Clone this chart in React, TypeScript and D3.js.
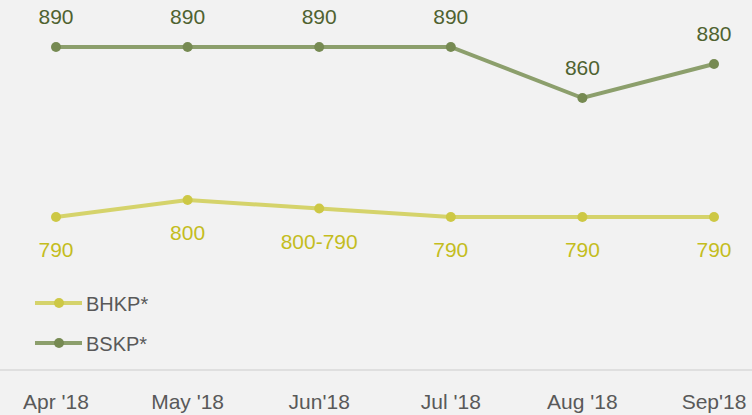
import React from "react";
import * as d3 from "d3";

const categories = ["Apr '18", "May '18", "Jun'18", "Jul '18", "Aug '18", "Sep'18"];
const bhkpValues = [790, 800, 795, 790, 790, 790];
const bhkpLabels = ["790", "800", "800-790", "790", "790", "790"];
const bskpValues = [890, 890, 890, 890, 860, 880];
const bskpLabels = ["890", "890", "890", "890", "860", "880"];
const seriesNames = ["BHKP*", "BSKP*"];

const W = 752;
const H = 415;
const FONT = "'Liberation Sans', Arial, sans-serif";

export default function App() {
  const x = d3.scalePoint<string>().domain(categories).range([56, 714]);
  const y = d3.scaleLinear().domain([790, 890]).range([217, 47]);
  const line = d3
    .line<number>()
    .x((_, i) => x(categories[i]) as number)
    .y((d) => y(d));

  const bhkpLine = "#d5d36b";
  const bhkpMarker = "#cdc845";
  const bhkpText = "#c4bd1e";
  const bskpLine = "#8c9f6c";
  const bskpMarker = "#768a52";
  const bskpText = "#4f6230";

  return (
    <svg
      width={W}
      height={H}
      style={{ position: "absolute", left: 0, top: 0, background: "#f2f2f2" }}
      fontFamily={FONT}
    >
      <rect x={0} y={0} width={W} height={H} fill="#f2f2f2" />
      <line x1={0} x2={W} y1={370} y2={370} stroke="#d9d9d9" strokeWidth={1.5} />
      {categories.map((c) => (
        <text key={c} x={x(c)} y={409} textAnchor="middle" fontSize={21} fill="#595959">
          {c}
        </text>
      ))}

      <path d={line(bskpValues) || ""} fill="none" stroke={bskpLine} strokeWidth={4} />
      {bskpValues.map((v, i) => (
        <g key={"s" + i}>
          <circle cx={x(categories[i])} cy={y(v)} r={5} fill={bskpMarker} />
          <text x={x(categories[i])} y={y(v) - 23} textAnchor="middle" fontSize={21} fill={bskpText}>
            {bskpLabels[i]}
          </text>
        </g>
      ))}

      <path d={line(bhkpValues) || ""} fill="none" stroke={bhkpLine} strokeWidth={4} />
      {bhkpValues.map((v, i) => (
        <g key={"h" + i}>
          <circle cx={x(categories[i])} cy={y(v)} r={5} fill={bhkpMarker} />
          <text x={x(categories[i])} y={y(v) + 40} textAnchor="middle" fontSize={21} fill={bhkpText}>
            {bhkpLabels[i]}
          </text>
        </g>
      ))}

      {/* Legend */}
      {[
        { name: seriesNames[0], ly: 303, lc: bhkpLine, mc: bhkpMarker },
        { name: seriesNames[1], ly: 343, lc: bskpLine, mc: bskpMarker },
      ].map((l) => (
        <g key={l.name}>
          <line x1={35} x2={82} y1={l.ly} y2={l.ly} stroke={l.lc} strokeWidth={4} />
          <circle cx={59} cy={l.ly} r={5} fill={l.mc} />
          <text x={86} y={l.ly + 8} fontSize={20} fill="#595959">
            {l.name}
          </text>
        </g>
      ))}
    </svg>
  );
}
